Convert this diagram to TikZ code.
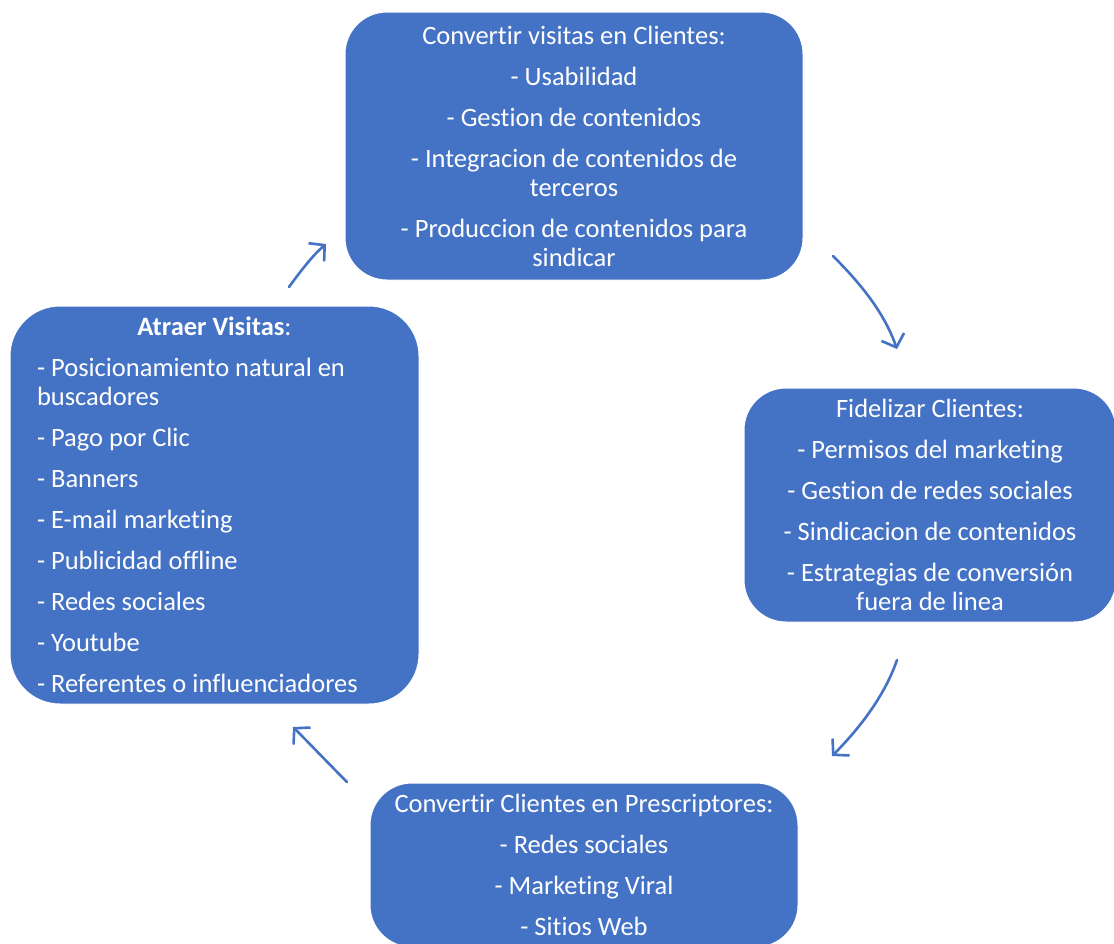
\documentclass[tikz,border=0pt]{standalone}
\usepackage{fontspec}
\setmainfont[RawFeature={-liga;-clig;-calt;-dlig}]{Carlito}
\usetikzlibrary{arrows.meta}
\definecolor{boxblue}{HTML}{4472C4}
\begin{document}
\begin{tikzpicture}[x=1pt,y=-1pt,
  box/.style={draw=white, line width=1pt, fill=boxblue, rounded corners=42pt, text=white,
    font=\fontsize{26.5}{29}\selectfont, inner sep=0pt},
  flow/.style={draw=boxblue, line width=2.6pt, line cap=round,
    -{Straight Barb[length=11pt,width=24pt,line width=2.6pt]}}]
\useasboundingbox (0,0) rectangle (1114,943);

\node[box, minimum width=458pt, minimum height=268pt, align=center] (convertir) at (574,146)
{Convertir visitas en Clientes:\\[12pt]
- Usabilidad\\[12pt]
- Gestion de contenidos\\[12pt]
- Integracion de contenidos de\\
terceros\\[12pt]
- Produccion de contenidos para\\
sindicar};

\node[box, minimum width=409pt, minimum height=398pt, rounded corners=50pt, text width=355pt, align=flush left] (atraer) at (214.5,505)
{\makebox[\hsize][c]{\textbf{Atraer Visitas}:}\\[12pt]
- Posicionamiento natural en\\
buscadores\\[12pt]
- Pago por Clic\\[12pt]
- Banners\\[12pt]
- E-mail marketing\\[12pt]
- Publicidad offline\\[12pt]
- Redes sociales\\[12pt]
- Youtube\\[12pt]
- Referentes o influenciadores};

\node[box, minimum width=372pt, minimum height=234pt, align=center] (fidelizar) at (930,505)
{Fidelizar Clientes:\\[12pt]
- Permisos del marketing\\[12pt]
- Gestion de redes sociales\\[12pt]
- Sindicacion de contenidos\\[12pt]
- Estrategias de conversión\\
fuera de linea};

\node[box, minimum width=428pt, minimum height=164pt, align=center] (prescriptores) at (584,865)
{Convertir Clientes en Prescriptores:\\[12pt]
- Redes sociales\\[12pt]
- Marketing Viral\\[12pt]
- Sitios Web};

\coordinate (a1s) at (289,287);
\coordinate (a1e) at (326,244);
\coordinate (a2s) at (833,256);
\coordinate (a2e) at (897,349);
\coordinate (a3s) at (897,660);
\coordinate (a3e) at (832,756);
\coordinate (a4s) at (347,782);
\coordinate (a4e) at (293,727);

\draw[flow] (a1s) .. controls (300,272) and (312,256) .. (a1e);
\draw[flow] (a2s) .. controls (860,283) and (884,312) .. (a2e);
\draw[flow] (a3s) .. controls (885,695) and (860,728) .. (a3e);
\draw[flow] (a4s) .. controls (329,764) and (311,745) .. (a4e);
\end{tikzpicture}
\end{document}
